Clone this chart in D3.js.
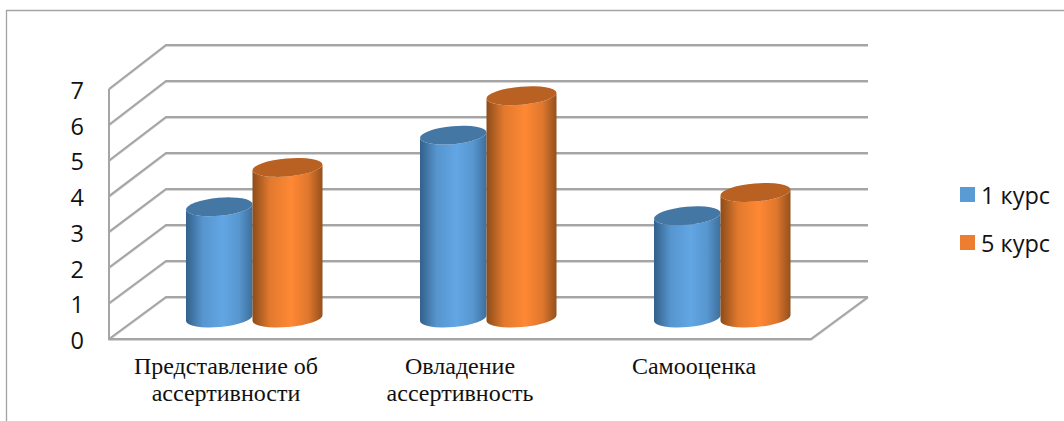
<!DOCTYPE html>
<html lang="ru">
<head>
<meta charset="utf-8">
<script src="https://cdn.jsdelivr.net/npm/d3@7/dist/d3.min.js"></script>
<style>
  html, body { margin: 0; padding: 0; background: #fff; overflow: hidden; }
  svg { display: block; }
</style>
</head>
<body>
<svg id="chart" width="1064" height="421"></svg>
<script>
// Chart content
const categories = [
  ["Представление об", "ассертивности"],
  ["Овладение", "ассертивность"],
  ["Самооценка"]
];
const seriesNames = ["1 курс", "5 курс"];
const course1 = [3.1, 5.1, 2.85];
const course5 = [4.2, 6.2, 3.5];
const yTicks = [0, 1, 2, 3, 4, 5, 6, 7];

const swatchColors = ["#5B9BD5", "#ED7D31"];
const shades = [
  { edgeL: "#33608a", mid: "#62A6E4", edgeR: "#3d6f9c", top: "#4577A4" },
  { edgeL: "#8c4c1a", mid: "#FF8834", edgeR: "#94501c", top: "#B86122" }
];

const svg = d3.select("#chart");
const gridColor = "#A5A5A5";
const gridShade = "#D4D4D4";

// Oblique box: front edge of the floor, back wall and the plane the bars stand on
const xFront = d3.scaleBand().domain(d3.range(categories.length)).range([109, 811]);
const xMid = d3.scaleBand().domain(d3.range(categories.length)).range([137, 839]);
const depthX = 57;
const yFront = d3.scaleLinear().domain([0, 7]).range([339, 89]);
const yBack = d3.scaleLinear().domain([0, 7]).range([297, 45]);
const yMid = d3.scaleLinear().domain([0, 7]).range([318, 67]);

// Horizontal extents of the two adjacent cylinders, relative to the category centre
const barLeft = d3.scaleOrdinal().domain(seriesNames).range([-68, -1.5]);
const barRight = d3.scaleOrdinal().domain(seriesNames).range([-1.5, 68.5]);

// Outer frame
svg.append("path")
  .attr("d", "M6.5,421V10.5H1064")
  .attr("fill", "none").attr("stroke", "#A3A3A3").attr("stroke-width", 1.3);

// Wall and floor lines
const walls = svg.append("g").attr("fill", "none").attr("stroke-linejoin", "miter");
function wallLine(d, offset) {
  walls.append("path").attr("d", d)
    .attr("transform", offset ? "translate(0,1.2)" : null)
    .attr("stroke", offset ? gridShade : gridColor)
    .attr("stroke-width", offset ? 1.4 : 2);
}
const x0 = xFront.range()[0], x1 = xFront.range()[1];
[true, false].forEach(shadow => {
  yTicks.forEach(t => {
    wallLine(`M${x0},${yFront(t)}L${x0 + depthX},${yBack(t)}H${x1 + depthX}`, shadow);
  });
  wallLine(`M${x0},${yFront(7)}V${yFront(0)}H${x1}L${x1 + depthX},${yBack(0)}`, shadow);
});

// Y axis labels
svg.append("g").selectAll("text").data(yTicks).join("text")
  .attr("x", 84)
  .attr("y", d => yFront(d) + 1)
  .attr("text-anchor", "end")
  .attr("dominant-baseline", "central")
  .attr("font-family", "'Open Sans', sans-serif")
  .attr("font-size", 23.5)
  .attr("fill", "#111")
  .text(d => d);

// Category labels
const catLabels = svg.append("g")
  .attr("font-family", "'Liberation Serif', serif")
  .attr("font-size", 24)
  .attr("fill", "#111")
  .attr("text-anchor", "middle");
categories.forEach((lines, i) => {
  lines.forEach((line, j) => {
    catLabels.append("text")
      .attr("x", xFront(i) + xFront.bandwidth() / 2)
      .attr("y", 374 + j * 27)
      .text(line);
  });
});

// Horizontal shading of the cylinder sides
const defs = svg.append("defs");
shades.forEach((s, i) => {
  const g = defs.append("linearGradient").attr("id", "side" + i)
    .attr("x1", "0").attr("x2", "1").attr("y1", "0").attr("y2", "0");
  [[0, s.edgeL], [0.25, d3.interpolateRgb(s.edgeL, s.mid)(0.75)], [0.55, s.mid],
   [0.8, d3.interpolateRgb(s.edgeR, s.mid)(0.7)], [1, s.edgeR]].forEach(([o, c]) => {
    g.append("stop").attr("offset", o).attr("stop-color", c);
  });
});

// Cylinders, with the ellipses tipped up towards the right
const tilt = 3, ry = 9;
function ellipseArc(left, right, cy, sweep, forward) {
  const rx = (right - left) / 2;
  const rot = -Math.atan2(2 * tilt, right - left) * 180 / Math.PI;
  const tx = forward ? right : left;
  const ty = forward ? cy - tilt : cy + tilt;
  return `A${rx},${ry} ${rot} 0 ${sweep} ${tx},${ty}`;
}
const bars = svg.append("g");
categories.forEach((_, i) => {
  const cx = xMid(i) + xMid.bandwidth() / 2;
  [course1, course5].forEach((values, s) => {
    const name = seriesNames[s];
    const left = cx + barLeft(name);
    const right = cx + barRight(name);
    const topY = yMid(values[i]);
    const botY = yMid(0);
    bars.append("path")
      .attr("d", `M${left},${topY + tilt}V${botY + tilt}` +
                 ellipseArc(left, right, botY, 0, true) +
                 `V${topY - tilt}` +
                 ellipseArc(left, right, topY, 1, false) + "Z")
      .attr("fill", `url(#side${s})`);
    bars.append("path")
      .attr("d", `M${left},${topY + tilt}` +
                 ellipseArc(left, right, topY, 1, true) +
                 ellipseArc(left, right, topY, 1, false) + "Z")
      .attr("fill", shades[s].top);
  });
});

// Legend
const legend = svg.append("g");
seriesNames.forEach((name, i) => {
  const y = 187 + i * 48;
  legend.append("rect")
    .attr("x", 960).attr("y", y).attr("width", 15).attr("height", 15)
    .attr("fill", swatchColors[i]);
  legend.append("text")
    .attr("x", 981).attr("y", y + 7.5)
    .attr("dominant-baseline", "central")
    .attr("font-family", "'Open Sans', sans-serif")
    .attr("font-size", 23.5)
    .attr("fill", "#111")
    .text(name);
});
</script>
</body>
</html>
